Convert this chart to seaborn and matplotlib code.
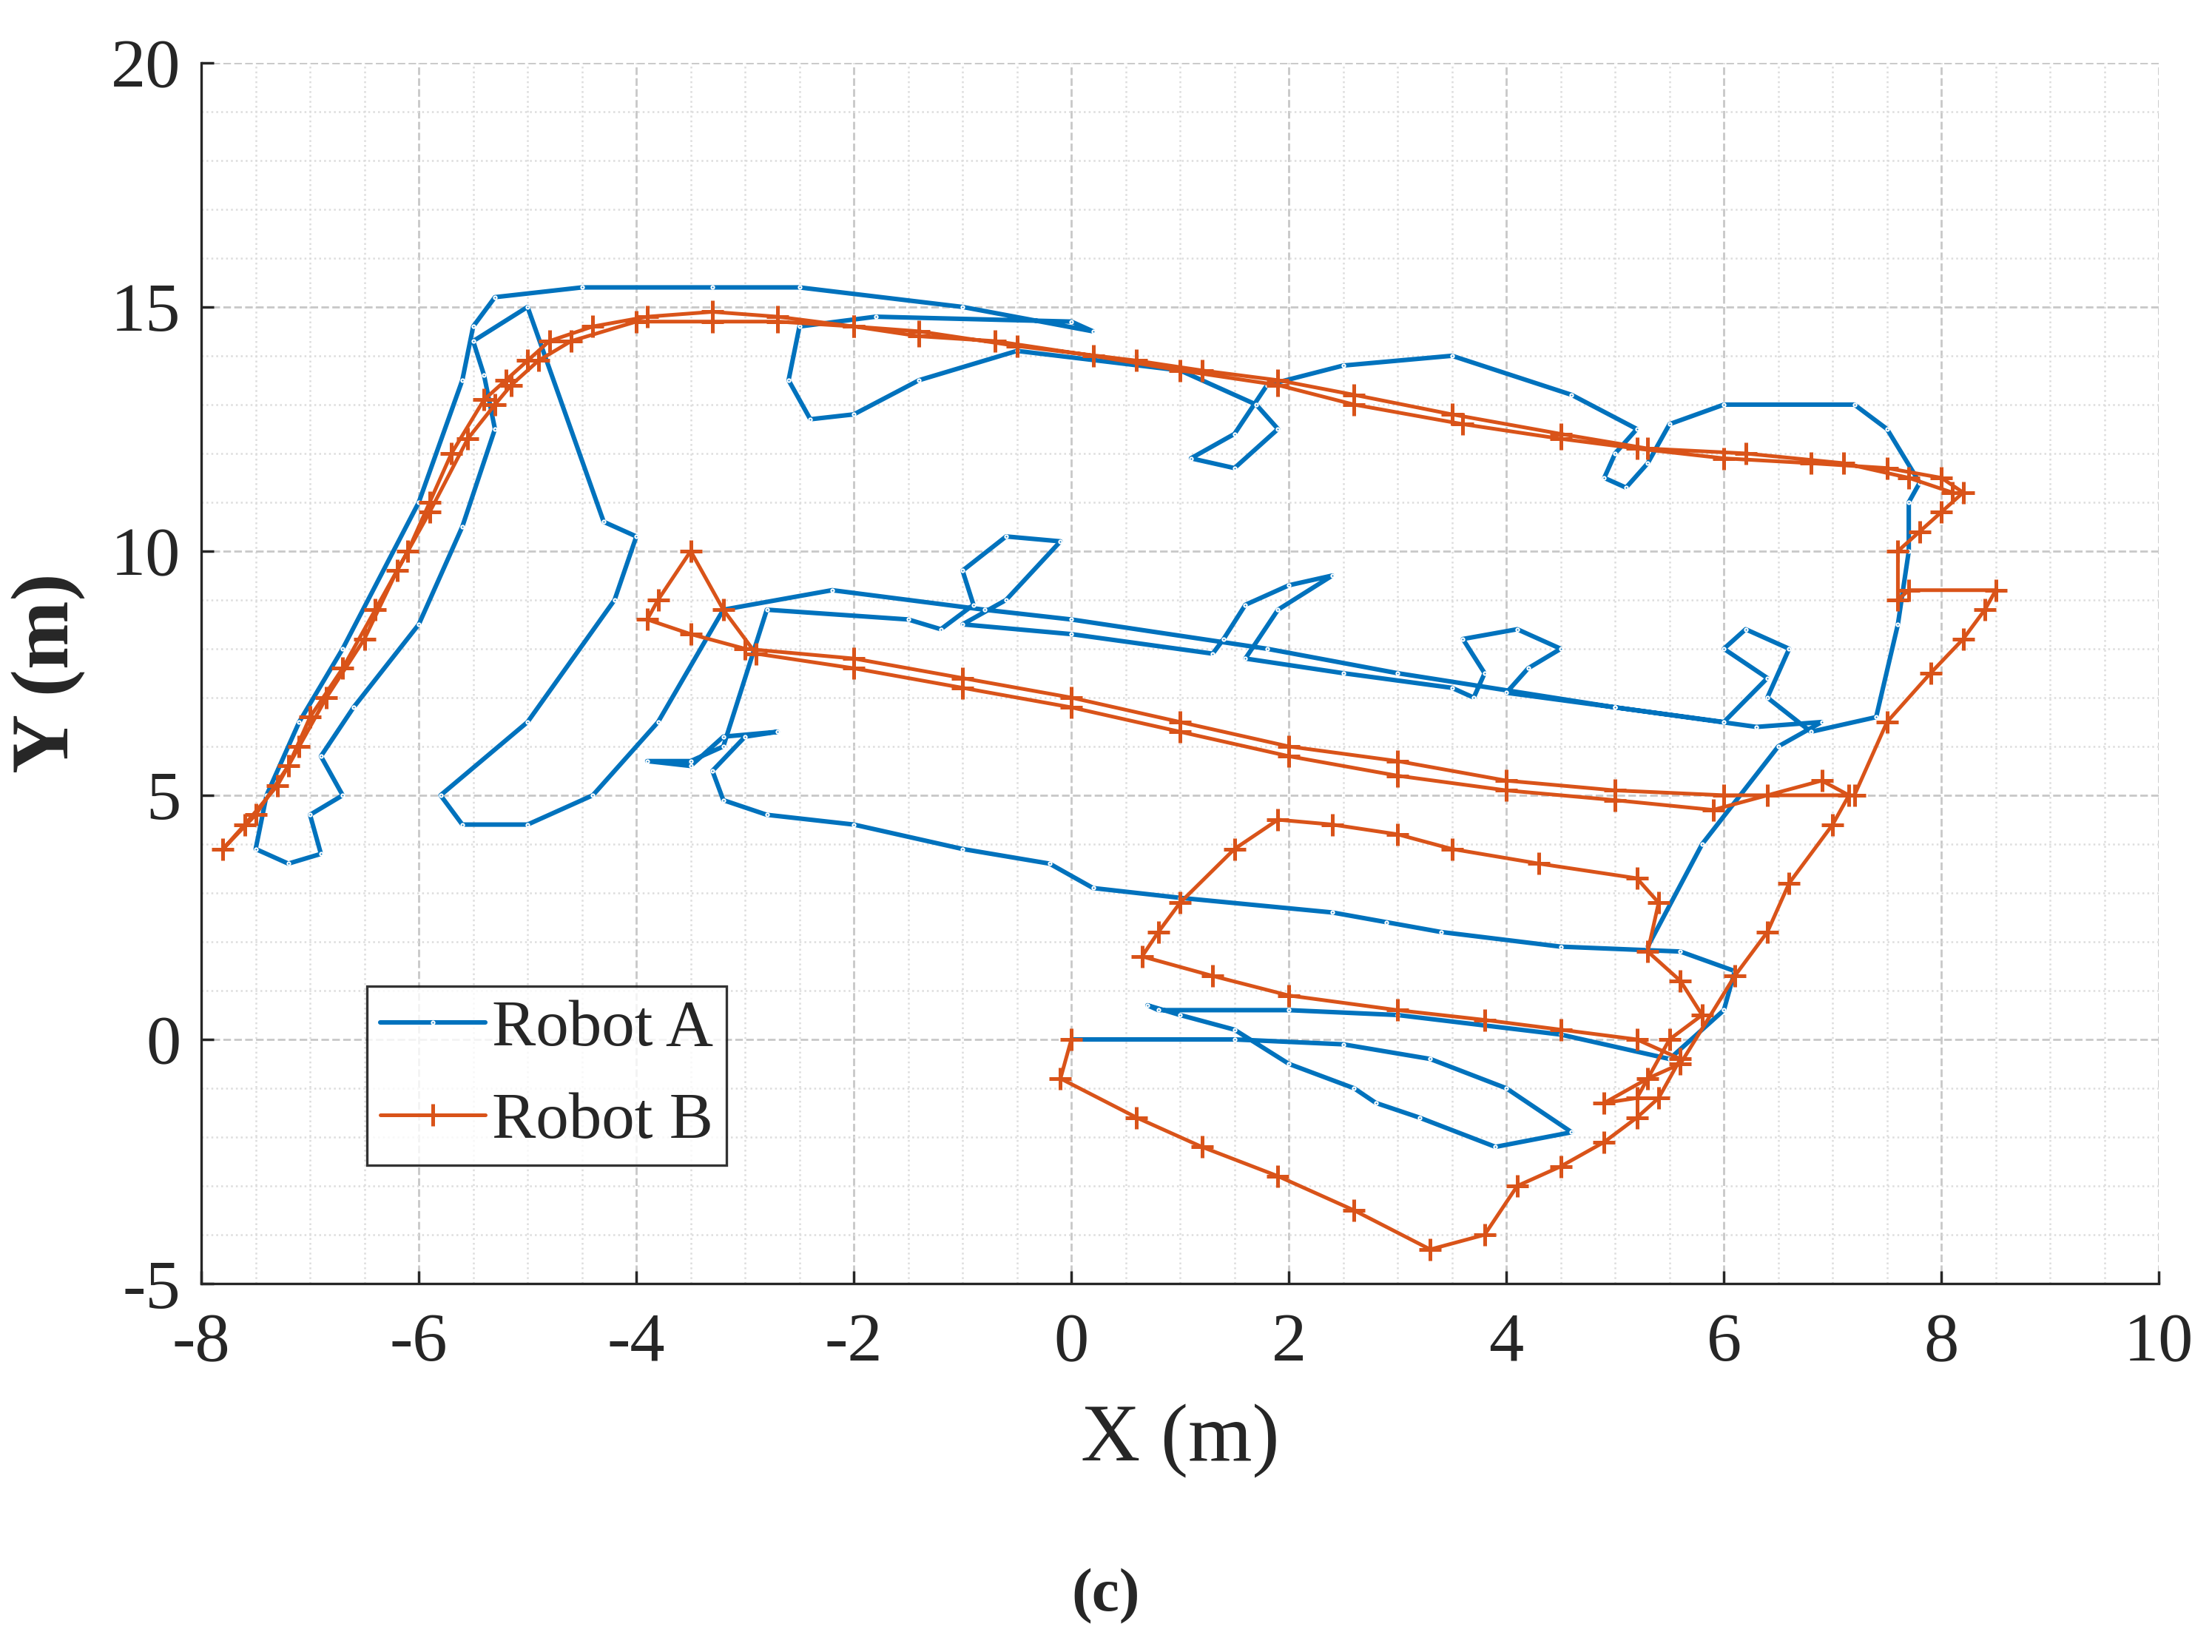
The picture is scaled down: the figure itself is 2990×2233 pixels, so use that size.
import matplotlib
matplotlib.use("Agg")
import matplotlib.pyplot as plt
import seaborn as sns
import numpy as np
from matplotlib.ticker import MultipleLocator

robot_a_x = [0,1.5,2.5,3.3,4.0,4.6,3.9,3.2,2.8,2.6,2.0,1.5,1.0,0.7,0.8,2.0,3.0,4.5,5.5,6.0,6.1,5.6,4.5,3.4,2.9,2.4,1.0,0.2,-0.2,-1.0,-2.0,-2.8,-3.2,-3.3,-3.0,-2.7,-3.2,-3.5,-3.9,-3.5,
             -3.2,-2.8,-1.5,-1.2,-0.9,-1.0,-0.6,-0.1,-0.6,-1.0,0.0,1.3,1.4,1.6,2.0,2.4,1.9,1.6,2.5,3.5,3.7,3.8,3.6,4.1,4.5,4.2,4.0,5.0,6.0,6.4,6.0,6.2,6.6,6.4,6.8,7.4,7.6,7.7,7.7,7.8,
             7.5,7.2,6.0,5.5,5.3,5.1,4.9,5.0,5.2,4.6,3.5,2.5,1.8,1.5,1.1,1.5,1.9,1.7,1.0,-0.5,-1.4,-2.0,-2.4,-2.6,-2.5,-1.8,0.0,0.2,-1.0,-2.5,-3.3,-4.5,-5.3,-5.5,
             -5.6,-6.0,-6.7,-7.1,-7.4,-7.5,-7.2,-6.9,-7.0,-6.7,-6.9,-6.6,-6.0,-5.6,-5.3,-5.4,-5.5,-5.0,-4.3,-4.0,-4.2,-5.0,-5.8,-5.6,-5.0,-4.4,-3.8,-3.2,-2.2,-0.8,0.0,1.8,3.0,5.0,6.3,6.9,6.5,5.8,5.3]
robot_a_y = [0,0.0,-0.1,-0.4,-1.0,-1.9,-2.2,-1.6,-1.3,-1.0,-0.5,0.2,0.5,0.7,0.6,0.6,0.5,0.1,-0.4,0.6,1.4,1.8,1.9,2.2,2.4,2.6,2.9,3.1,3.6,3.9,4.4,4.6,4.9,5.5,6.2,6.3,6.2,5.6,5.7,5.7,
             6.0,8.8,8.6,8.4,8.9,9.6,10.3,10.2,9.0,8.5,8.3,7.9,8.2,8.9,9.3,9.5,8.8,7.8,7.5,7.2,7.0,7.5,8.2,8.4,8.0,7.6,7.1,6.8,6.5,7.4,8.0,8.4,8.0,7.0,6.3,6.6,8.5,10.0,11.0,11.4,
             12.5,13.0,13.0,12.6,11.8,11.3,11.5,12.0,12.5,13.2,14.0,13.8,13.4,12.4,11.9,11.7,12.5,13.0,13.7,14.1,13.5,12.8,12.7,13.5,14.6,14.8,14.7,14.5,15.0,15.4,15.4,15.4,15.2,14.6,
             13.5,11.0,8.0,6.5,5.0,3.9,3.6,3.8,4.6,5.0,5.8,6.8,8.5,10.5,12.5,13.6,14.3,15.0,10.6,10.3,9.0,6.5,5.0,4.4,4.4,5.0,6.5,8.8,9.2,8.8,8.6,8.0,7.5,6.8,6.4,6.5,6.0,4.0,1.9]

robot_b_x = [0,-0.1,0.6,1.2,1.9,2.6,3.3,3.8,4.1,4.5,4.9,5.2,5.4,5.6,5.2,4.5,3.8,3.0,2.0,1.3,0.65,0.8,1.0,1.5,1.9,2.4,3.0,3.5,4.3,5.2,5.4,5.3,5.6,5.8,5.5,5.2,4.9,5.3,5.6,6.1,6.4,6.6,7.0,7.15,6.9,6.4,5.9,5.0,4.0,3.0,2.0,1.0,0,-1.0,-2.0,-2.9,-3.2,-3.5,-3.8,-3.9,-3.5,-3.0,-2.0,-1.0,0,1.0,2.0,3.0,4.0,5.0,6.0,7.2,7.5,7.9,8.2,8.4,8.5,7.7,7.6,7.6,7.8,8.0,8.2,8.0,7.5,6.8,6.0,5.2,4.5,3.6,2.6,1.9,1.0,0.2,-0.7,-1.4,-2.0,-2.7,-3.3,-3.9,-4.4,-4.8,-5.0,-5.2,-5.4,-5.7,-5.9,-6.1,-6.4,-6.7,-7.0,-7.2,-7.5,-7.8,-7.6,-7.3,-7.1,-6.85,-6.5,-6.2,-5.9,-5.55,-5.3,-5.15,-4.9,-4.6,-4.0,-3.3,-2.7,-2.0,-1.4,-0.5,0.6,1.2,1.9,2.6,3.5,4.5,5.3,6.2,7.1,7.7,8.1]
robot_b_y = [0,-0.8,-1.6,-2.2,-2.8,-3.5,-4.3,-4.0,-3.0,-2.6,-2.1,-1.6,-1.2,-0.4,0.0,0.2,0.4,0.6,0.9,1.3,1.7,2.2,2.8,3.9,4.5,4.4,4.2,3.9,3.6,3.3,2.8,1.8,1.2,0.5,0.0,-1.2,-1.3,-0.8,-0.5,1.3,2.2,3.2,4.4,5.0,5.3,5.0,4.7,4.9,5.1,5.4,5.8,6.3,6.8,7.2,7.6,7.9,8.8,10.0,9.0,8.6,8.3,8.0,7.8,7.4,7.0,6.5,6.0,5.7,5.3,5.1,5.0,5.0,6.5,7.5,8.2,8.8,9.2,9.2,9.0,10.0,10.4,10.8,11.2,11.5,11.7,11.8,11.9,12.1,12.3,12.6,13.0,13.4,13.7,14.0,14.3,14.4,14.6,14.8,14.9,14.8,14.6,14.3,13.9,13.5,13.1,12.0,11.0,10.0,8.8,7.6,6.6,5.6,4.6,3.9,4.4,5.2,6.0,7.0,8.2,9.6,10.8,12.3,13.0,13.4,13.9,14.3,14.7,14.7,14.7,14.6,14.5,14.2,13.9,13.7,13.5,13.2,12.8,12.4,12.1,12.0,11.8,11.5,11.2]

sns.set_theme(style="whitegrid")
plt.rcParams['font.family'] = ['Liberation Serif', 'DejaVu Serif']
plt.rcParams['axes.unicode_minus'] = False

fig = plt.figure(figsize=(14.95, 11.165), dpi=200)
ax = fig.add_axes([0.091, 0.223, 0.885, 0.739])
blue = '#0072BD'
orange = '#D95319'
sns.lineplot(x=robot_a_x, y=robot_a_y, sort=False, estimator=None, ax=ax, color=blue, lw=2.2,
             marker='.', markersize=3, label='Robot A')
sns.lineplot(x=robot_b_x, y=robot_b_y, sort=False, estimator=None, ax=ax, color=orange, lw=1.8,
             marker='+', markersize=11, markeredgewidth=1.8, mec=orange, label='Robot B')

ax.set_xlim(-8, 10)
ax.set_ylim(-5, 20)
ax.xaxis.set_major_locator(MultipleLocator(2))
ax.yaxis.set_major_locator(MultipleLocator(5))
ax.xaxis.set_minor_locator(MultipleLocator(0.5))
ax.yaxis.set_minor_locator(MultipleLocator(1))
ax.grid(which='major', color='#c8c8c8', ls='--', lw=1.0)
ax.grid(which='minor', color='#dddddd', ls=':', lw=0.9)
ax.set_facecolor('white')
for s in ['left', 'bottom']:
    ax.spines[s].set_color('#262626'); ax.spines[s].set_linewidth(1.2)
for s in ['right', 'top']:
    ax.spines[s].set_visible(False)
ax.tick_params(axis='both', labelsize=34, colors='#262626', length=6, direction='in', left=True, bottom=True)
ax.tick_params(axis='x', pad=14)
ax.tick_params(axis='y', pad=10)
ax.set_xlabel('X (m)', fontsize=40, labelpad=14)
ax.set_ylabel('Y (m)', fontsize=40, fontweight='bold', labelpad=12)
leg = ax.legend(loc='lower left', bbox_to_anchor=(0.068, 0.07), fontsize=32, frameon=True,
                fancybox=False, edgecolor='black', handlelength=1.6, handletextpad=0.1, borderpad=0.2)
leg.get_frame().set_linewidth(1.2)
fig.text(0.5, 0.025, '(c)', ha='center', fontsize=30, fontweight='bold')
fig.savefig('out.png', dpi=200)
